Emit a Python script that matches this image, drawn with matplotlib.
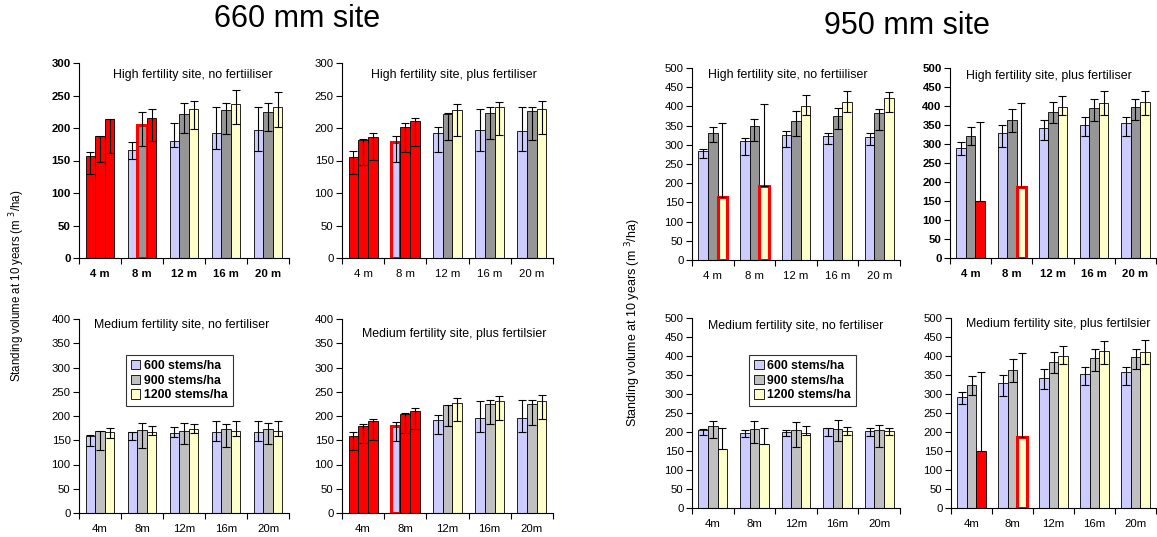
import matplotlib
matplotlib.use("Agg")
import matplotlib.pyplot as plt
from matplotlib.patches import Patch
import numpy as np

plt.rcParams['font.family'] = ['Liberation Sans', 'DejaVu Sans']

cats_top = ["4 m", "8 m", "12 m", "16 m", "20 m"]
cats_bot = ["4m", "8m", "12m", "16m", "20m"]
series = ["600 stems/ha", "900 stems/ha", "1200 stems/ha"]

# ---- 660 mm site ----
# High fertility, no fertiliser
p1_mean = [[157, 166, 180, 192, 197], [188, 205, 222, 228, 225], [214, 216, 230, 237, 233]]
p1_lo = [[130, 153, 171, 167, 164], [148, 172, 192, 191, 195], [162, 180, 199, 206, 202]]
p1_hi = [[163, 178, 208, 232, 233], [188, 225, 238, 238, 239], [214, 229, 241, 259, 256]]
# High fertility, plus fertiliser
p2_mean = [[156, 178, 192, 197, 195], [181, 202, 222, 223, 226], [186, 211, 227, 232, 230]]
p2_lo = [[130, 148, 163, 165, 165], [143, 163, 181, 183, 181], [151, 173, 188, 190, 191]]
p2_hi = [[165, 188, 201, 230, 233], [183, 207, 223, 232, 233], [193, 215, 237, 240, 241]]
# Medium fertility, no fertiliser
p3_mean = [[159, 166, 164, 167, 167], [169, 171, 169, 173, 173], [168, 168, 173, 170, 170]]
p3_lo = [[139, 150, 157, 148, 148], [129, 134, 142, 136, 142], [154, 161, 165, 158, 159]]
p3_hi = [[160, 168, 178, 189, 190], [169, 185, 185, 183, 185], [176, 180, 183, 189, 190]]
# Medium fertility, plus fertiliser
p4_mean = [[158, 180, 191, 196, 196], [180, 204, 223, 225, 225], [189, 211, 226, 230, 230]]
p4_lo = [[130, 149, 163, 166, 167], [144, 164, 180, 184, 182], [151, 174, 189, 191, 193]]
p4_hi = [[166, 187, 202, 230, 232], [184, 206, 223, 232, 232], [193, 217, 237, 241, 243]]

# ---- 950 mm site ----
p5_mean = [[283, 309, 326, 323, 321], [330, 348, 363, 375, 383], [164, 193, 402, 411, 422]]
p5_lo = [[266, 274, 293, 302, 300], [306, 310, 323, 342, 339], [164, 193, 378, 385, 385]]
p5_hi = [[290, 318, 335, 331, 331], [346, 367, 387, 397, 393], [357, 406, 430, 441, 437]]
p6_mean = [[289, 329, 342, 351, 355], [322, 362, 384, 396, 397], [149, 186, 397, 408, 410]]
p6_lo = [[272, 291, 311, 320, 322], [298, 332, 355, 360, 364], [149, 186, 377, 377, 377]]
p6_hi = [[304, 349, 362, 372, 371], [346, 392, 410, 418, 418], [358, 408, 427, 439, 439]]
p7_mean = [[205, 198, 200, 211, 203], [215, 209, 204, 209, 206], [156, 169, 198, 203, 203]]
p7_lo = [[191, 187, 189, 189, 189], [184, 172, 161, 176, 161], [156, 169, 191, 191, 191]]
p7_hi = [[207, 206, 204, 211, 211], [228, 228, 226, 231, 218], [211, 211, 216, 213, 211]]
p8_mean = [[291, 330, 342, 352, 357], [323, 362, 384, 396, 398], [151, 186, 399, 413, 411]]
p8_lo = [[274, 295, 313, 323, 323], [297, 332, 355, 360, 365], [151, 186, 378, 378, 378]]
p8_hi = [[306, 350, 365, 372, 372], [347, 392, 411, 419, 419], [358, 408, 427, 439, 441]]

titles = ["High fertility site, no fertiiliser", "High fertility site, plus fertiliser",
          "Medium fertility site, no fertiliser", "Medium fertility site, plus fertilsier",
          "High fertility site, no fertiiliser", "High fertility site, plus fertiliser",
          "Medium fertility site, no fertiliser", "Medium fertility site, plus fertilsier"]

# highlighted bars: (category, series)
red_fill = [
    [(0, 0), (0, 1), (0, 2), (1, 2)],
    [(0, 0), (0, 1), (0, 2), (1, 1), (1, 2)],
    [],
    [(0, 0), (0, 1), (0, 2), (1, 1), (1, 2)],
    [],
    [(0, 2)],
    [],
    [(0, 2)],
]
red_edge = [
    [(1, 1)], [(1, 0)], [], [(1, 0)],
    [(0, 2), (1, 2)], [(1, 2)], [], [(1, 2)],
]

W, H = 1157, 537
fig = plt.figure(figsize=(W / 100, H / 100), dpi=100)

# axes boxes in pixels: left, top, right, bottom
boxes = [(79, 63, 289, 258), (342, 63, 553, 258), (79, 319, 289, 513), (342, 319, 553, 513),
         (692, 68, 900, 260), (950, 68, 1156, 258), (692, 318, 900, 508), (951, 318, 1156, 508)]
title_pos = [(0.543, 0.938), (0.531, 0.938), (0.49, 0.969), (0.531, 0.923),
             (0.462, 0.964), (0.48, 0.958), (0.5, 0.958), (0.522, 0.968)]
ymaxs = [300, 300, 400, 400, 500, 500, 500, 500]
ysteps = [50, 50, 50, 50, 50, 50, 50, 50]
bold_y = [True, False, False, False, False, True, False, False]
bold_x = [True, False, False, False, False, True, False, False]

means = [p1_mean, p2_mean, p3_mean, p4_mean, p5_mean, p6_mean, p7_mean, p8_mean]
los = [p1_lo, p2_lo, p3_lo, p4_lo, p5_lo, p6_lo, p7_lo, p8_lo]
his = [p1_hi, p2_hi, p3_hi, p4_hi, p5_hi, p6_hi, p7_hi, p8_hi]

lavender = "#CCCCFF"
dgrey = "#969696"
lgrey = "#C0C0C0"
yellow = "#FFFFCC"
red = "#FF0000"

bw = 0.23
offsets = [-bw, 0, bw]

axes = []
for i in range(8):
    l, t, r, b = boxes[i]
    ax = fig.add_axes([l / W, 1 - b / H, (r - l) / W, (b - t) / H])
    axes.append(ax)
    grey = dgrey if i in (0, 1, 4, 5) else lgrey
    colors = [lavender, grey, yellow]
    x = np.arange(5)
    for s in range(3):
        m = np.array(means[i][s], dtype=float)
        lo = np.array(los[i][s], dtype=float)
        hi = np.array(his[i][s], dtype=float)
        fcs = []
        ecs = []
        lws = []
        for c in range(5):
            if (c, s) in red_fill[i]:
                fcs.append(red); ecs.append("black"); lws.append(0.6)
            elif (c, s) in red_edge[i]:
                fcs.append(colors[s]); ecs.append(red); lws.append(2.2)
            else:
                fcs.append(colors[s]); ecs.append("black"); lws.append(0.6)
        ax.bar(x + offsets[s], m, bw, color=fcs, edgecolor=ecs, linewidth=lws, zorder=2)
        yerr = np.vstack([np.clip(m - lo, 0, None), np.clip(hi - m, 0, None)])
        ax.errorbar(x + offsets[s], m, yerr=yerr, fmt="none", ecolor="black",
                    elinewidth=0.8, capsize=2.6, capthick=0.8, zorder=3)
    ax.set_xlim(-0.5, 4.5)
    ax.set_ylim(0, ymaxs[i])
    ax.set_yticks(np.arange(0, ymaxs[i] + 1, ysteps[i]))
    labels = cats_top if i in (0, 1, 4, 5) else cats_bot
    ax.set_xticks(x)
    ax.set_xticklabels(labels, fontsize=8.2, fontweight="bold" if bold_x[i] else "normal")
    ax.set_xticks(np.arange(-0.5, 5, 1), minor=True)
    ax.tick_params(axis="x", which="major", length=0, pad=8)
    ax.tick_params(axis="x", which="minor", length=4, width=0.8, direction="out")
    ax.tick_params(axis="y", length=4, width=0.8, direction="out", labelsize=8.2, pad=2)
    for lab in ax.get_yticklabels():
        lab.set_fontweight("bold" if bold_y[i] else "normal")
    for sp in ("top", "right"):
        ax.spines[sp].set_visible(False)
    for sp in ("left", "bottom"):
        ax.spines[sp].set_linewidth(0.8)
    tx, ty = title_pos[i]
    ax.text(tx, ty, titles[i], transform=ax.transAxes, ha="center", va="center", fontsize=8.9)

# legends
handles = [Patch(facecolor=c, edgecolor="black", linewidth=0.6) for c in [lavender, lgrey, yellow]]
for i, anchor in ((2, (0.222, 0.814)), (6, (0.274, 0.805))):
    leg = axes[i].legend(handles, series, loc="upper left", bbox_to_anchor=anchor,
                         frameon=True, fancybox=False, fontsize=8.8, handlelength=0.8,
                         handleheight=0.8, handletextpad=0.3, borderpad=0.4,
                         labelspacing=0.22, borderaxespad=0)
    leg.get_frame().set_edgecolor("black")
    leg.get_frame().set_linewidth(0.8)
    for txt in leg.get_texts():
        txt.set_fontweight("bold")

fig.text(297 / W, 1 - 19 / H, "660 mm site", ha="center", va="center", fontsize=22)
fig.text(907 / W, 1 - 26 / H, "950 mm site", ha="center", va="center", fontsize=22)
fig.text(17 / W, 1 - 286 / H, "Standing volume at 10 years (m $^{3}$/ha)", rotation=90,
         ha="center", va="center", fontsize=8.3)
fig.text(633 / W, 1 - 323 / H, "Standing volume at 10 years (m $^{3}$/ha)", rotation=90,
         ha="center", va="center", fontsize=9)

fig.savefig("out.png", dpi=100)
